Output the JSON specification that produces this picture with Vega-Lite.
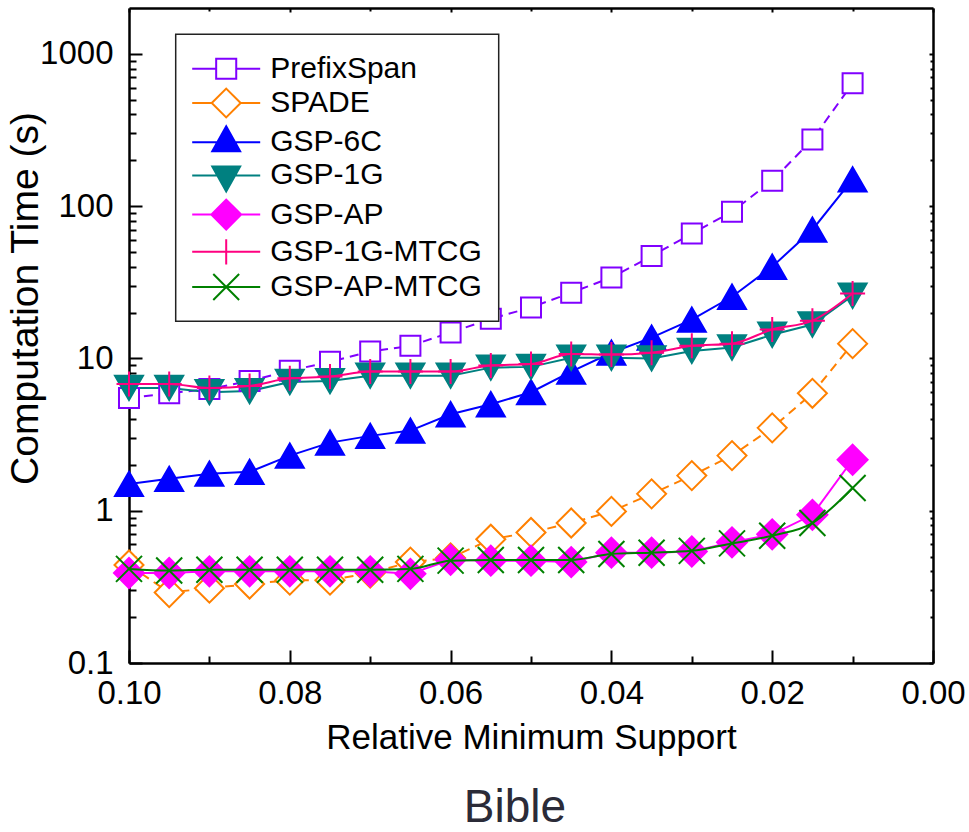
{
  "$schema": "https://vega.github.io/schema/vega-lite/v6.json",
  "width": 804,
  "height": 655,
  "autosize": {"type": "none"},
  "padding": {"left": 129, "top": 8, "right": 36, "bottom": 169},
  "background": "white",
  "title": {"text": "Bible", "orient": "bottom", "anchor": "middle", "fontSize": 46, "font": "Liberation Sans", "fontWeight": "normal", "color": "#2b2b38", "dx": -16, "offset": 31},
  "data": {"values": [
    {"s":0.1,"t":5.5,"k":"PrefixSpan"},{"s":0.095,"t":5.9,"k":"PrefixSpan"},{"s":0.09,"t":6.3,"k":"PrefixSpan"},{"s":0.085,"t":7.1,"k":"PrefixSpan"},{"s":0.08,"t":8.3,"k":"PrefixSpan"},{"s":0.075,"t":9.5,"k":"PrefixSpan"},{"s":0.07,"t":11.1,"k":"PrefixSpan"},{"s":0.065,"t":12.1,"k":"PrefixSpan"},{"s":0.06,"t":14.8,"k":"PrefixSpan"},{"s":0.055,"t":18.2,"k":"PrefixSpan"},{"s":0.05,"t":21.6,"k":"PrefixSpan"},{"s":0.045,"t":27,"k":"PrefixSpan"},{"s":0.04,"t":34,"k":"PrefixSpan"},{"s":0.035,"t":47,"k":"PrefixSpan"},{"s":0.03,"t":66,"k":"PrefixSpan"},{"s":0.025,"t":92,"k":"PrefixSpan"},{"s":0.02,"t":147,"k":"PrefixSpan"},{"s":0.015,"t":274,"k":"PrefixSpan"},{"s":0.01,"t":640,"k":"PrefixSpan"},
    {"s":0.1,"t":0.44,"k":"SPADE"},{"s":0.095,"t":0.29,"k":"SPADE"},{"s":0.09,"t":0.31,"k":"SPADE"},{"s":0.085,"t":0.33,"k":"SPADE"},{"s":0.08,"t":0.35,"k":"SPADE"},{"s":0.075,"t":0.35,"k":"SPADE"},{"s":0.07,"t":0.39,"k":"SPADE"},{"s":0.065,"t":0.46,"k":"SPADE"},{"s":0.06,"t":0.49,"k":"SPADE"},{"s":0.055,"t":0.65,"k":"SPADE"},{"s":0.05,"t":0.72,"k":"SPADE"},{"s":0.045,"t":0.83,"k":"SPADE"},{"s":0.04,"t":0.99,"k":"SPADE"},{"s":0.035,"t":1.29,"k":"SPADE"},{"s":0.03,"t":1.7,"k":"SPADE"},{"s":0.025,"t":2.3,"k":"SPADE"},{"s":0.02,"t":3.5,"k":"SPADE"},{"s":0.015,"t":5.9,"k":"SPADE"},{"s":0.01,"t":12.5,"k":"SPADE"},
    {"s":0.1,"t":1.5,"k":"GSP-6C"},{"s":0.095,"t":1.62,"k":"GSP-6C"},{"s":0.09,"t":1.75,"k":"GSP-6C"},{"s":0.085,"t":1.8,"k":"GSP-6C"},{"s":0.08,"t":2.3,"k":"GSP-6C"},{"s":0.075,"t":2.8,"k":"GSP-6C"},{"s":0.07,"t":3.1,"k":"GSP-6C"},{"s":0.065,"t":3.36,"k":"GSP-6C"},{"s":0.06,"t":4.3,"k":"GSP-6C"},{"s":0.055,"t":5.0,"k":"GSP-6C"},{"s":0.05,"t":6.0,"k":"GSP-6C"},{"s":0.045,"t":8.2,"k":"GSP-6C"},{"s":0.04,"t":10.9,"k":"GSP-6C"},{"s":0.035,"t":13.7,"k":"GSP-6C"},{"s":0.03,"t":18,"k":"GSP-6C"},{"s":0.025,"t":25.4,"k":"GSP-6C"},{"s":0.02,"t":40,"k":"GSP-6C"},{"s":0.015,"t":70,"k":"GSP-6C"},{"s":0.01,"t":150,"k":"GSP-6C"},
    {"s":0.1,"t":6.4,"k":"GSP-1G"},{"s":0.095,"t":6.4,"k":"GSP-1G"},{"s":0.09,"t":6.0,"k":"GSP-1G"},{"s":0.085,"t":6.1,"k":"GSP-1G"},{"s":0.08,"t":7.0,"k":"GSP-1G"},{"s":0.075,"t":7.1,"k":"GSP-1G"},{"s":0.07,"t":7.7,"k":"GSP-1G"},{"s":0.065,"t":7.7,"k":"GSP-1G"},{"s":0.06,"t":7.7,"k":"GSP-1G"},{"s":0.055,"t":8.7,"k":"GSP-1G"},{"s":0.05,"t":8.8,"k":"GSP-1G"},{"s":0.045,"t":10.1,"k":"GSP-1G"},{"s":0.04,"t":10.1,"k":"GSP-1G"},{"s":0.035,"t":10.0,"k":"GSP-1G"},{"s":0.03,"t":11.2,"k":"GSP-1G"},{"s":0.025,"t":11.8,"k":"GSP-1G"},{"s":0.02,"t":14.3,"k":"GSP-1G"},{"s":0.015,"t":16.7,"k":"GSP-1G"},{"s":0.01,"t":25.8,"k":"GSP-1G"},
    {"s":0.1,"t":0.39,"k":"GSP-AP"},{"s":0.095,"t":0.39,"k":"GSP-AP"},{"s":0.09,"t":0.4,"k":"GSP-AP"},{"s":0.085,"t":0.4,"k":"GSP-AP"},{"s":0.08,"t":0.4,"k":"GSP-AP"},{"s":0.075,"t":0.4,"k":"GSP-AP"},{"s":0.07,"t":0.4,"k":"GSP-AP"},{"s":0.065,"t":0.385,"k":"GSP-AP"},{"s":0.06,"t":0.476,"k":"GSP-AP"},{"s":0.055,"t":0.47,"k":"GSP-AP"},{"s":0.05,"t":0.47,"k":"GSP-AP"},{"s":0.045,"t":0.46,"k":"GSP-AP"},{"s":0.04,"t":0.53,"k":"GSP-AP"},{"s":0.035,"t":0.53,"k":"GSP-AP"},{"s":0.03,"t":0.54,"k":"GSP-AP"},{"s":0.025,"t":0.62,"k":"GSP-AP"},{"s":0.02,"t":0.7,"k":"GSP-AP"},{"s":0.015,"t":0.94,"k":"GSP-AP"},{"s":0.01,"t":2.16,"k":"GSP-AP"},
    {"s":0.1,"t":6.8,"k":"GSP-1G-MTCG"},{"s":0.095,"t":6.8,"k":"GSP-1G-MTCG"},{"s":0.09,"t":6.4,"k":"GSP-1G-MTCG"},{"s":0.085,"t":6.6,"k":"GSP-1G-MTCG"},{"s":0.08,"t":7.4,"k":"GSP-1G-MTCG"},{"s":0.075,"t":7.6,"k":"GSP-1G-MTCG"},{"s":0.07,"t":8.2,"k":"GSP-1G-MTCG"},{"s":0.065,"t":8.2,"k":"GSP-1G-MTCG"},{"s":0.06,"t":8.2,"k":"GSP-1G-MTCG"},{"s":0.055,"t":9.0,"k":"GSP-1G-MTCG"},{"s":0.05,"t":9.2,"k":"GSP-1G-MTCG"},{"s":0.045,"t":10.7,"k":"GSP-1G-MTCG"},{"s":0.04,"t":10.6,"k":"GSP-1G-MTCG"},{"s":0.035,"t":10.9,"k":"GSP-1G-MTCG"},{"s":0.03,"t":12.1,"k":"GSP-1G-MTCG"},{"s":0.025,"t":12.5,"k":"GSP-1G-MTCG"},{"s":0.02,"t":15.5,"k":"GSP-1G-MTCG"},{"s":0.015,"t":17.7,"k":"GSP-1G-MTCG"},{"s":0.01,"t":26.7,"k":"GSP-1G-MTCG"},
    {"s":0.1,"t":0.415,"k":"GSP-AP-MTCG"},{"s":0.095,"t":0.405,"k":"GSP-AP-MTCG"},{"s":0.09,"t":0.41,"k":"GSP-AP-MTCG"},{"s":0.085,"t":0.41,"k":"GSP-AP-MTCG"},{"s":0.08,"t":0.41,"k":"GSP-AP-MTCG"},{"s":0.075,"t":0.41,"k":"GSP-AP-MTCG"},{"s":0.07,"t":0.41,"k":"GSP-AP-MTCG"},{"s":0.065,"t":0.415,"k":"GSP-AP-MTCG"},{"s":0.06,"t":0.47,"k":"GSP-AP-MTCG"},{"s":0.055,"t":0.475,"k":"GSP-AP-MTCG"},{"s":0.05,"t":0.475,"k":"GSP-AP-MTCG"},{"s":0.045,"t":0.475,"k":"GSP-AP-MTCG"},{"s":0.04,"t":0.52,"k":"GSP-AP-MTCG"},{"s":0.035,"t":0.53,"k":"GSP-AP-MTCG"},{"s":0.03,"t":0.545,"k":"GSP-AP-MTCG"},{"s":0.025,"t":0.61,"k":"GSP-AP-MTCG"},{"s":0.02,"t":0.685,"k":"GSP-AP-MTCG"},{"s":0.015,"t":0.83,"k":"GSP-AP-MTCG"},{"s":0.01,"t":1.41,"k":"GSP-AP-MTCG"}
  ]},
  "resolve": {"axis": {"x": "independent", "y": "independent"}, "scale": {"stroke": "independent", "fill": "independent", "shape": "independent"}},
  "layer": [
    {
      "transform": [{"filter": {"field": "k", "oneOf": ["PrefixSpan", "SPADE"]}}],
      "mark": {"type": "line", "strokeWidth": 2, "strokeDash": [9, 6]},
      "encoding": {
        "x": {"field": "s", "type": "quantitative", "scale": {"domain": [0, 0.1], "reverse": true, "nice": false, "zero": false},
          "axis": {"orient": "bottom", "values": [0, 0.01, 0.02, 0.03, 0.04, 0.05, 0.06, 0.07, 0.08, 0.09, 0.1],
            "labelExpr": "abs(datum.value*50 - round(datum.value*50)) < 1e-6 ? format(datum.value, '.2f') : ''",
            "tickSize": {"condition": {"test": "abs(datum.value*50 - round(datum.value*50)) < 1e-6", "value": -13}, "value": -7},
            "labelPadding": 27, "title": "Relative Minimum Support", "titleFontSize": 35, "titleY": 85, "titleBaseline": "alphabetic"}},
        "y": {"field": "t", "type": "quantitative", "scale": {"type": "log", "domain": [0.1, 2000], "nice": false},
          "axis": {"orient": "left", "values": [0.1,0.2,0.3,0.4,0.5,0.6,0.7,0.8,0.9,1,2,3,4,5,6,7,8,9,10,20,30,40,50,60,70,80,90,100,200,300,400,500,600,700,800,900,1000],
            "labelExpr": "abs(log(datum.value)/LN10 - round(log(datum.value)/LN10)) < 1e-6 ? format(datum.value, '~g') : ''",
            "tickSize": {"condition": {"test": "abs(log(datum.value)/LN10 - round(log(datum.value)/LN10)) < 1e-6", "value": -13}, "value": -7},
            "labelPadding": 29, "title": "Computation Time (s)", "titleFontSize": 39, "titleAngle": 270, "titleX": -92, "titleY": 290, "titleBaseline": "alphabetic"}},
        "stroke": {"field": "k", "type": "nominal", "scale": {"domain": ["PrefixSpan", "SPADE"], "range": ["#8000FF", "#FF8000"]}, "legend": null}
      }
    },
    {
      "transform": [{"filter": {"field": "k", "oneOf": ["GSP-6C", "GSP-1G", "GSP-AP"]}}],
      "mark": {"type": "line", "strokeWidth": 2},
      "encoding": {
        "x": {"field": "s", "type": "quantitative", "axis": null},
        "y": {"field": "t", "type": "quantitative", "axis": null},
        "stroke": {"field": "k", "type": "nominal", "scale": {"domain": ["GSP-6C", "GSP-1G", "GSP-AP"], "range": ["#0000FF", "#008080", "#FF00FF"]}, "legend": null}
      }
    },
    {
      "transform": [{"filter": {"field": "k", "oneOf": ["PrefixSpan", "SPADE", "GSP-6C", "GSP-1G", "GSP-AP"]}}],
      "mark": {"type": "point", "filled": true, "strokeWidth": 2, "opacity": 1, "size": 900},
      "encoding": {
        "x": {"field": "s", "type": "quantitative",
          "axis": {"orient": "top", "values": [0, 0.01, 0.02, 0.03, 0.04, 0.05, 0.06, 0.07, 0.08, 0.09, 0.1], "labels": false, "title": null,
            "tickSize": {"condition": {"test": "abs(datum.value*50 - round(datum.value*50)) < 1e-6", "value": -4}, "value": -3}}},
        "y": {"field": "t", "type": "quantitative",
          "axis": {"orient": "right", "values": [0.1,0.2,0.3,0.4,0.5,0.6,0.7,0.8,0.9,1,2,3,4,5,6,7,8,9,10,20,30,40,50,60,70,80,90,100,200,300,400,500,600,700,800,900,1000], "labels": false, "title": null,
            "tickSize": {"condition": {"test": "abs(log(datum.value)/LN10 - round(log(datum.value)/LN10)) < 1e-6", "value": -4}, "value": -3}}},
        "shape": {"field": "k", "type": "nominal", "scale": {"domain": ["PrefixSpan", "SPADE", "GSP-6C", "GSP-1G", "GSP-AP"], "range": ["M-0.667,-0.667H0.667V0.667H-0.667Z", "M-0.967,0L0,-0.967L0.967,0L0,0.967Z", "M0,-0.81L0.933,0.81L-0.933,0.81Z", "M-0.933,-0.81L0.933,-0.81L0,0.81Z", "M-1,0L0,-1L1,0L0,1Z"]}, "legend": null},
        "fill": {"field": "k", "type": "nominal", "scale": {"domain": ["PrefixSpan", "SPADE", "GSP-6C", "GSP-1G", "GSP-AP"], "range": ["white", "white", "#0000FF", "#008080", "#FF00FF"]}, "legend": null},
        "stroke": {"field": "k", "type": "nominal", "scale": {"domain": ["PrefixSpan", "SPADE", "GSP-6C", "GSP-1G", "GSP-AP"], "range": ["#8000FF", "#FF8000", "#0000FF", "#008080", "#FF00FF"]}, "legend": null}
      }
    },
    {
      "transform": [{"filter": {"field": "k", "oneOf": ["GSP-1G-MTCG", "GSP-AP-MTCG"]}}],
      "mark": {"type": "line", "strokeWidth": 2, "interpolate": "monotone"},
      "encoding": {
        "x": {"field": "s", "type": "quantitative", "axis": null},
        "y": {"field": "t", "type": "quantitative", "axis": null},
        "stroke": {"field": "k", "type": "nominal", "scale": {"domain": ["GSP-1G-MTCG", "GSP-AP-MTCG"], "range": ["#FF0080", "#008000"]}, "legend": null}
      }
    },
    {
      "transform": [{"filter": {"field": "k", "oneOf": ["GSP-1G-MTCG", "GSP-AP-MTCG"]}}],
      "mark": {"type": "point", "filled": true, "strokeWidth": 2, "opacity": 1, "size": 900},
      "encoding": {
        "x": {"field": "s", "type": "quantitative", "axis": null},
        "y": {"field": "t", "type": "quantitative", "axis": null},
        "shape": {"field": "k", "type": "nominal", "scale": {"domain": ["GSP-1G-MTCG", "GSP-AP-MTCG"], "range": ["M-0.833,0H0.833M0,-0.833V0.833", "M-0.867,-0.867L0.867,0.867M-0.867,0.867L0.867,-0.867"]}, "legend": null},
        "fill": {"field": "k", "type": "nominal", "scale": {"domain": ["GSP-1G-MTCG", "GSP-AP-MTCG"], "range": ["#FF0080", "#008000"]}, "legend": null},
        "stroke": {"field": "k", "type": "nominal", "scale": {"domain": ["GSP-1G-MTCG", "GSP-AP-MTCG"], "range": ["#FF0080", "#008000"]}, "legend": null}
      }
    },
    {
      "transform": [{"filter": {"field": "s", "equal": 0.1}}],
      "mark": {"type": "point", "filled": true, "strokeWidth": 2, "opacity": 1, "size": 0},
      "encoding": {
        "x": {"field": "s", "type": "quantitative", "axis": null},
        "y": {"field": "t", "type": "quantitative", "axis": null},
        "shape": {"field": "k", "type": "nominal", "scale": {"domain": ["PrefixSpan", "SPADE", "GSP-6C", "GSP-1G", "GSP-AP", "GSP-1G-MTCG", "GSP-AP-MTCG"], "range": ["M-2,0H-0.59M0.59,0H2M-0.59,-0.59H0.59V0.59H-0.59Z", "M-2,0H-0.85M0.85,0H2M-0.85,0L0,-0.85L0.85,0L0,0.85Z", "M-2,0H2M0,-0.94L0.82,0.53L-0.82,0.53Z", "M-2,0H2M-0.82,-0.53L0.82,-0.53L0,0.94Z", "M-2,0H2M-0.88,0L0,-0.88L0.88,0L0,0.88Z", "M-2,0H2M0,-0.74V0.74", "M-2,0H2M-0.76,-0.76L0.76,0.76M-0.76,0.76L0.76,-0.76"]},
          "legend": {"orient": "none", "legendX": 46.7, "legendY": 26.3, "title": null}},
        "fill": {"field": "k", "type": "nominal", "scale": {"domain": ["PrefixSpan", "SPADE", "GSP-6C", "GSP-1G", "GSP-AP", "GSP-1G-MTCG", "GSP-AP-MTCG"], "range": ["white", "white", "#0000FF", "#008080", "#FF00FF", "#FF0080", "#008000"]},
          "legend": {"orient": "none", "legendX": 46.7, "legendY": 26.3, "title": null}},
        "stroke": {"field": "k", "type": "nominal", "scale": {"domain": ["PrefixSpan", "SPADE", "GSP-6C", "GSP-1G", "GSP-AP", "GSP-1G-MTCG", "GSP-AP-MTCG"], "range": ["#8000FF", "#FF8000", "#0000FF", "#008080", "#FF00FF", "#FF0080", "#008000"]},
          "legend": {"orient": "none", "legendX": 46.7, "legendY": 26.3, "title": null}}
      }
    }
  ],
  "config": {
    "view": {"stroke": null},
    "axis": {"domainColor": "black", "domainWidth": 2.5, "tickColor": "black", "tickWidth": 2, "labelFont": "Liberation Sans", "labelFontSize": 33, "labelColor": "black", "titleFont": "Liberation Sans", "titleFontWeight": "normal", "titleColor": "black", "grid": false, "labelOverlap": false, "labelFlush": false, "labelBound": false},
    "legend": {"padding": 16.5, "fillColor": "white", "strokeColor": "#222222", "strokeWidth": 1.5, "labelFont": "Liberation Sans", "labelFontSize": 30, "labelColor": "black", "labelOffset": 26, "symbolOffset": 16, "symbolSize": 1156, "symbolStrokeWidth": 2, "rowPadding": 0.2, "labelLimit": 400, "cornerRadius": 0}
  }
}
